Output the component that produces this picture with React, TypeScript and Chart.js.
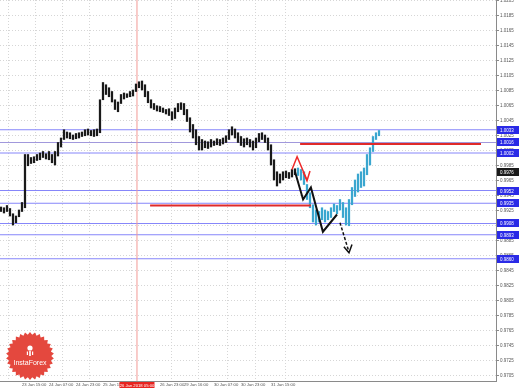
import React, { useEffect, useRef } from 'react';
import { Chart, registerables } from 'chart.js';

Chart.register(...registerables);

// ---- data ----
const barLows = [
  0.9924, 0.9922, 0.9924, 0.9918, 0.9906, 0.9909, 0.9917, 0.9924, 0.9929, 0.9985,
  0.9988, 0.9989, 0.9992, 0.9993, 0.9996, 0.9994, 0.9993, 0.9989, 0.9986, 0.9998,
  1.0010, 1.0020, 1.0022, 1.0021, 1.0020, 1.0021, 1.0022, 1.0024, 1.0025, 1.0026,
  1.0025, 1.0024, 1.0025, 1.0029, 1.0073, 1.0080, 1.0077, 1.0070, 1.0060, 1.0057,
  1.0068, 1.0074, 1.0076, 1.0077, 1.0078, 1.0084, 1.0089, 1.0086, 1.0077, 1.0069,
  1.0062, 1.0060, 1.0058, 1.0057, 1.0056, 1.0054, 1.0052, 1.0046, 1.0048, 1.0057,
  1.0060, 1.0053, 1.0044, 1.0030, 1.0022, 1.0013, 1.0006, 1.0006, 1.0009, 1.0008,
  1.0010, 1.0012, 1.0013, 1.0012, 1.0014, 1.0016, 1.0020, 1.0026, 1.0022, 1.0016,
  1.0012, 1.0010, 1.0013, 1.0010, 1.0006, 1.0009, 1.0017, 1.0020, 1.0016, 1.0006,
  0.9986, 0.9966, 0.9958, 0.9962, 0.9966, 0.9969, 0.9968, 0.9970, 0.9973, 0.9972,
  0.9966, 0.9960, 0.9940, 0.9929, 0.9910, 0.9906, 0.9910, 0.9913, 0.9910, 0.9913,
  0.9916, 0.9924, 0.9921, 0.9926, 0.9916, 0.9906, 0.9905, 0.9933, 0.9944, 0.9950,
  0.9956, 0.9958, 0.9973, 0.9986, 1.0004, 1.0020, 1.0025,
];
const barHighs = [
  0.9930, 0.9929, 0.9932, 0.9928, 0.9921, 0.9918, 0.9926, 0.9936, 1.0000, 1.0000,
  0.9996, 0.9997, 1.0000, 1.0002, 1.0004, 1.0001, 1.0004, 1.0000, 1.0004, 1.0016,
  1.0022, 1.0033, 1.0030, 1.0029, 1.0026, 1.0028, 1.0029, 1.0030, 1.0033, 1.0034,
  1.0032, 1.0033, 1.0034, 1.0073, 1.0096, 1.0093, 1.0089, 1.0084, 1.0073, 1.0070,
  1.0080, 1.0082, 1.0081, 1.0084, 1.0086, 1.0094, 1.0097, 1.0098, 1.0093, 1.0084,
  1.0073, 1.0068, 1.0065, 1.0064, 1.0062, 1.0060, 1.0061, 1.0057, 1.0062, 1.0068,
  1.0069, 1.0068, 1.0060, 1.0049, 1.0040, 1.0033, 1.0024, 1.0020, 1.0018, 1.0017,
  1.0020, 1.0018, 1.0021, 1.0020, 1.0022, 1.0025, 1.0033, 1.0037, 1.0034, 1.0029,
  1.0024, 1.0021, 1.0022, 1.0020, 1.0018, 1.0022, 1.0028, 1.0029, 1.0026, 1.0022,
  1.0013, 0.9993, 0.9977, 0.9974, 0.9977, 0.9978, 0.9976, 0.9980, 0.9981, 0.9982,
  0.9980, 0.9977, 0.9960, 0.9949, 0.9933, 0.9926, 0.9924, 0.9929, 0.9926, 0.9924,
  0.9929, 0.9934, 0.9932, 0.9940, 0.9936, 0.9929, 0.9940, 0.9956, 0.9966, 0.9974,
  0.9977, 0.9982, 1.0000, 1.0009, 1.0024, 1.0029, 1.0032,
];
const forecastStart = 99;

const yTickLabels = [
  '0.9705', '0.9725', '0.9745', '0.9765', '0.9785', '0.9805', '0.9825', '0.9845',
  '0.9865', '0.9885', '0.9905', '0.9925', '0.9945', '0.9965', '0.9985', '1.0005',
  '1.0025', '1.0045', '1.0065', '1.0085', '1.0105', '1.0125', '1.0145', '1.0165',
  '1.0185', '1.0205',
];
const xTickIndex = [7, 16, 25, 34, 53, 61, 71, 80, 90];
const xTickLabels = [
  '23 Jan 15:00', '24 Jan 07:00', '24 Jan 23:00', '25 Jan 15:00', '26 Jan 23:00',
  '29 Jan 16:00', '30 Jan 07:00', '30 Jan 23:00', '31 Jan 15:00',
];

const levelPrices = [1.0033, 1.0016, 1.0002, 0.9952, 0.9935, 0.9908, 0.9893, 0.9861];
const levelLabels = ['1.0033', '1.0016', '1.0002', '0.9952', '0.9935', '0.9908', '0.9893', '0.9860'];
const currentPrice = 0.9976;
const currentLabel = '0.9976';

const redUpperLevel = [{ x: 99.7, y: 1.0014 }, { x: 160, y: 1.0014 }];
const redLowerLevel = [{ x: 49.7, y: 0.9932 }, { x: 103.3, y: 0.9932 }];
const blackZigzag = [
  { x: 98, y: 0.9977 }, { x: 100.7, y: 0.9940 }, { x: 103.3, y: 0.9956 },
  { x: 107.3, y: 0.9897 }, { x: 112, y: 0.9920 },
];
const blackDashed = [{ x: 113, y: 0.9909 }, { x: 116, y: 0.9870 }];
const blackHead = [{ x: 114.3, y: 0.9877 }, { x: 116, y: 0.9869 }, { x: 117, y: 0.9880 }];
const redZig = [{ x: 97, y: 0.9980 }, { x: 98.7, y: 0.9997 }, { x: 102, y: 0.9966 }];
const redHead = [{ x: 100.7, y: 0.9977 }, { x: 102, y: 0.9965 }, { x: 103, y: 0.9978 }];
const verticalIndex = 45.33;
const verticalLabel = '26 Jan 2018 05:00';

const X_MIN = -0.33;
const X_MAX = 165;
const Y_MIN = 0.9698;
const Y_MAX = 1.0206;

const FONT = 'Liberation Sans';

const overlayPlugin = {
  id: 'overlay',
  afterDraw(chart: any) {
    const { ctx, scales, chartArea } = chart;
    const ys = scales.y;
    const xs = scales.x;
    const W = chart.width;
    ctx.save();
    ctx.font = `4.5px "${FONT}"`;
    ctx.textBaseline = 'middle';
    ctx.textAlign = 'left';
    levelPrices.forEach((p, i) => {
      const y = Math.round(ys.getPixelForValue(p));
      ctx.fillStyle = '#2a2ae6';
      ctx.fillRect(chartArea.right + 1, y - 4, W - chartArea.right - 1, 8);
      ctx.fillStyle = '#ffffff';
      ctx.fillText(levelLabels[i], chartArea.right + 4, y + 0.5);
    });
    const cy = Math.round(ys.getPixelForValue(currentPrice));
    ctx.fillStyle = '#1a1a1a';
    ctx.fillRect(chartArea.right + 1, cy - 4, W - chartArea.right - 1, 8);
    ctx.fillStyle = '#ffffff';
    ctx.fillText(currentLabel, chartArea.right + 4, cy + 0.5);

    // vertical line time label
    const vx = xs.getPixelForValue(verticalIndex);
    ctx.font = `4.2px "${FONT}"`;
    ctx.fillStyle = '#e8231f';
    ctx.fillRect(vx - 17.5, chartArea.bottom + 1, 35, 7);
    ctx.fillStyle = '#ffffff';
    ctx.textAlign = 'center';
    ctx.fillText(verticalLabel, vx, chartArea.bottom + 4.5);

    // logo badge
    const lx = 30, ly = 356, R = 24, r = 21.3, n = 30;
    ctx.beginPath();
    for (let k = 0; k < n * 2; k++) {
      const a = (k * Math.PI) / n - Math.PI / 2;
      const rad = k % 2 === 0 ? R : r;
      const px = lx + rad * Math.cos(a);
      const py = ly + rad * Math.sin(a);
      if (k === 0) ctx.moveTo(px, py);
      else ctx.lineTo(px, py);
    }
    ctx.closePath();
    ctx.fillStyle = '#e4483e';
    ctx.fill();
    ctx.fillStyle = '#ffffff';
    ctx.beginPath();
    ctx.arc(lx, ly - 8, 2.6, 0, Math.PI * 2);
    ctx.fill();
    ctx.fillRect(lx - 0.8, ly - 5, 1.6, 5);
    ctx.fillRect(lx - 3.2, ly - 4.5, 1.2, 3.5);
    ctx.fillRect(lx + 2, ly - 4.5, 1.2, 3.5);
    ctx.font = `7px "${FONT}"`;
    ctx.textAlign = 'center';
    ctx.fillText('InstaForex', lx, ly + 7);
    ctx.restore();
  },
};

export default function App() {
  const ref = useRef<HTMLCanvasElement | null>(null);

  useEffect(() => {
    document.body.style.margin = '0';
    const canvas = ref.current;
    if (!canvas) return;

    const lineDs = (data: any[], color: string, width: number, dash: number[] = [], order = 1) => ({
      type: 'line' as const,
      data,
      borderColor: color,
      borderWidth: width,
      borderDash: dash,
      pointRadius: 0,
      fill: false,
      tension: 0,
      order,
    });

    const levelDatasets = levelPrices.map((p, i) =>
      lineDs(
        [{ x: X_MIN, y: p }, { x: X_MAX, y: p }],
        i === 1 ? '#a198dc' : '#8686fa',
        1,
        [],
        10,
      ),
    );

    const chart = new Chart(canvas, {
      type: 'bar',
      data: {
        datasets: [
          ...levelDatasets,
          lineDs(
            [{ x: verticalIndex, y: Y_MIN }, { x: verticalIndex, y: Y_MAX }],
            '#f29a95',
            1,
            [],
            9,
          ),
          {
            type: 'bar',
            data: barLows.map((lo, i) => ({ x: i, y: [lo, barHighs[i]] })),
            backgroundColor: barLows.map((_, i) => (i < forecastStart ? '#1a1a1a' : '#3aa6cf')),
            borderWidth: 0,
            barThickness: 1.6,
            grouped: false,
            order: 5,
          } as any,
          lineDs(redUpperLevel, '#e02a2a', 2),
          lineDs(redLowerLevel, '#e02a2a', 2),
          lineDs(blackZigzag, '#111111', 2),
          lineDs(blackDashed, '#111111', 1.5, [3, 2]),
          lineDs(blackHead, '#111111', 1.5),
          lineDs(redZig, '#ee2a2a', 1.5),
          lineDs(redHead, '#ee2a2a', 1.5),
        ],
      },
      options: {
        responsive: false,
        animation: false,
        events: [],
        layout: { padding: 0 },
        plugins: { legend: { display: false }, tooltip: { enabled: false } },
        scales: {
          x: {
            type: 'linear',
            min: X_MIN,
            max: X_MAX,
            offset: false,
            afterBuildTicks: (s: any) => {
              s.ticks = xTickIndex.map((v) => ({ value: v }));
            },
            afterFit: (s: any) => {
              s.height = 7;
              s.paddingLeft = 0;
              s.paddingRight = 0;
            },
            ticks: {
              autoSkip: false,
              maxRotation: 0,
              minRotation: 0,
              align: 'start',
              padding: 1.5,
              color: '#555555',
              font: { size: 4.2, family: FONT },
              callback: (_v: any, i: number) => xTickLabels[i],
            },
            grid: { color: '#d6d6d6', drawTicks: false, lineWidth: 1 },
            border: { display: true, color: '#8a8a8a', dash: [1, 2] },
          },
          y: {
            position: 'right',
            min: Y_MIN,
            max: Y_MAX,
            afterBuildTicks: (s: any) => {
              s.ticks = yTickLabels.map((t) => ({ value: Number(t) }));
            },
            afterFit: (s: any) => {
              s.width = 23;
              s.paddingTop = 0;
              s.paddingBottom = 0;
            },
            ticks: {
              autoSkip: false,
              padding: 1,
              color: '#555555',
              font: { size: 4.5, family: FONT },
              callback: (_v: any, i: number) => yTickLabels[i],
            },
            grid: { color: '#d6d6d6', tickLength: 3, tickColor: '#8a8a8a', lineWidth: 1 },
            border: { display: true, color: '#8a8a8a', dash: [1, 2] },
          },
        },
      },
      plugins: [overlayPlugin],
    } as any);

    return () => chart.destroy();
  }, []);

  return (
    <div style={{ width: 519, height: 388, background: '#ffffff' }}>
      <canvas ref={ref} width={519} height={388} style={{ display: 'block', width: 519, height: 388 }} />
    </div>
  );
}
